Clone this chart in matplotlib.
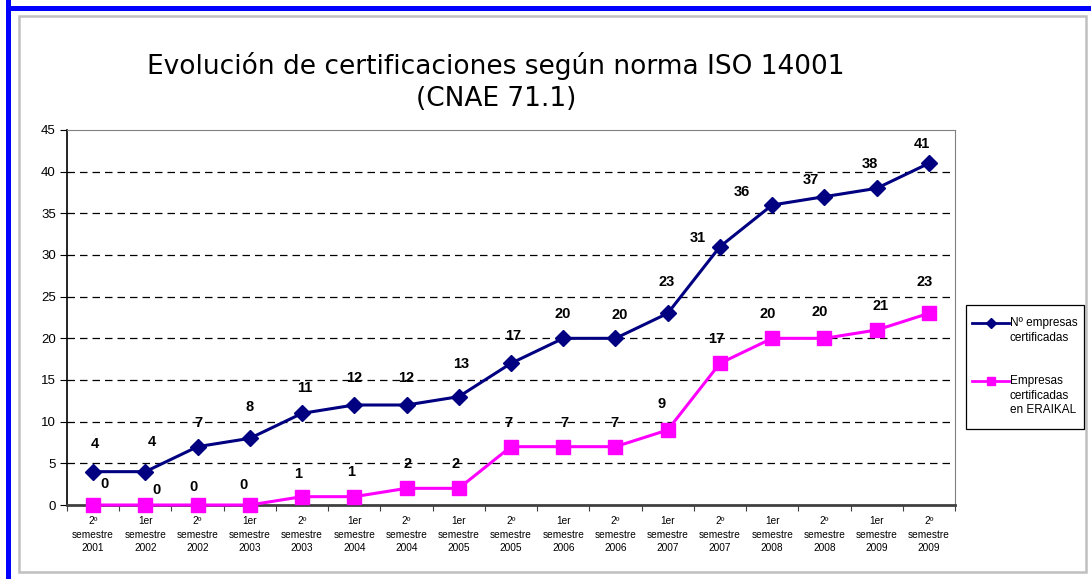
import matplotlib
matplotlib.use("Agg")
import matplotlib.pyplot as plt
from matplotlib.patches import Rectangle
from matplotlib.lines import Line2D

categories = [
    "2º\nsemestre\n2001", "1er\nsemestre\n2002", "2º\nsemestre\n2002", "1er\nsemestre\n2003",
    "2º\nsemestre\n2003", "1er\nsemestre\n2004", "2º\nsemestre\n2004", "1er\nsemestre\n2005",
    "2º\nsemestre\n2005", "1er\nsemestre\n2006", "2º\nsemestre\n2006", "1er\nsemestre\n2007",
    "2º\nsemestre\n2007", "1er\nsemestre\n2008", "2º\nsemestre\n2008", "1er\nsemestre\n2009",
    "2º\nsemestre\n2009",
]
empresas_certificadas = [4, 4, 7, 8, 11, 12, 12, 13, 17, 20, 20, 23, 31, 36, 37, 38, 41]
empresas_eraikal = [0, 0, 0, 0, 1, 1, 2, 2, 7, 7, 7, 9, 17, 20, 20, 21, 23]
series_names = ["Nº empresas\ncertificadas", "Empresas\ncertificadas\nen ERAIKAL"]
title = "Evolución de certificaciones según norma ISO 14001\n(CNAE 71.1)"
yticks = [0, 5, 10, 15, 20, 25, 30, 35, 40, 45]

# label offsets in pixels (placement style only)
blue_off = [(2, 28), (7, 30), (1, 24), (0, 31), (3, 25), (0, 27), (0, 27), (2, 33), (2, 27),
            (-1, 24), (4, 23), (-1, 31), (-22, 9), (-30, 13), (-14, 17), (-7, 24), (-7, 19)]
pink_off = [(11, 21), (11, 15), (-4, 18), (-6, 20), (-4, 23), (-3, 25), (1, 24), (-3, 24), (-3, 24),
            (1, 24), (-1, 24), (-6, 26), (-4, 24), (-4, 24), (-5, 26), (4, 24), (-4, 31)]

W, H = 1091, 579
fig = plt.figure(figsize=(W / 100, H / 100), dpi=100)
fig.patch.set_facecolor("white")

def fx(px):
    return px / W

def fy(py):
    return 1 - py / H

# outer frames
fig.add_artist(Rectangle((fx(6), fy(579)), fx(5), 1, color="#0000ff", lw=0, transform=fig.transFigure))
fig.add_artist(Rectangle((fx(6), fy(11)), 1, 5 / H, color="#0000ff", lw=0, transform=fig.transFigure))
fig.add_artist(Rectangle((fx(19), fy(572)), fx(1086 - 19), (572 - 16) / H, fill=False,
                         ec="#c0c0c0", lw=1.8, transform=fig.transFigure))

left, right, top, bottom = 67, 955, 130, 505
ax = fig.add_axes([fx(left), fy(bottom), fx(right - left), (bottom - top) / H])
n = len(categories)
x = list(range(n))
ax.set_xlim(-0.5, n - 0.5)
ax.set_ylim(0, 45)
ax.set_yticks(yticks)
ax.set_yticklabels([str(v) for v in yticks], fontsize=9.5, family="Liberation Sans")
ax.set_xticks([i - 0.5 for i in range(n + 1)], minor=False)
ax.set_xticklabels([])
ax.set_xticks(x, minor=True)
ax.set_xticklabels(categories, minor=True, fontsize=7.3, family="Liberation Sans", linespacing=1.45)
ax.tick_params(axis="x", which="minor", length=0, pad=8)
ax.tick_params(axis="x", which="major", length=4, color="#404040", direction="out")
ax.tick_params(axis="y", length=5, direction="out", pad=3)
for v in yticks[1:-1]:
    ax.axhline(v, color="black", lw=0.9, ls=(0, (6, 4)), zorder=1)
ax.spines["left"].set_color("black")
ax.spines["left"].set_linewidth(1.2)
ax.spines["bottom"].set_color("#404040")
ax.spines["bottom"].set_linewidth(2)
ax.spines["top"].set_color("#808080")
ax.spines["right"].set_color("#808080")

ax.plot(x, empresas_eraikal, color="#ff00ff", lw=2.2, marker="s", ms=9.5, zorder=3, clip_on=False)
ax.plot(x, empresas_certificadas, color="#000080", lw=2.2, marker="D", ms=8, zorder=4, clip_on=False)

for i in x:
    ax.annotate(str(empresas_certificadas[i]), (i, empresas_certificadas[i]), xytext=blue_off[i],
                textcoords="offset pixels", ha="center", va="center", fontsize=10.5, fontweight="bold",
                family="Liberation Sans")
    ax.annotate(str(empresas_eraikal[i]), (i, empresas_eraikal[i]), xytext=pink_off[i],
                textcoords="offset pixels", ha="center", va="center", fontsize=10.5, fontweight="bold",
                family="Liberation Sans")

fig.text(fx(496), fy(82), title, ha="center", va="center", fontsize=19, family="DejaVu Sans",
         linespacing=1.3)

# legend
fig.add_artist(Rectangle((fx(966), fy(429)), fx(1084 - 966), (429 - 305) / H, fill=False,
                         ec="black", lw=0.9, transform=fig.transFigure))
fig.add_artist(Line2D([fx(972), fx(1009)], [fy(323), fy(323)], color="#000080", lw=2,
                      marker=None, transform=fig.transFigure))
fig.add_artist(Line2D([fx(991)], [fy(323)], color="#000080", marker="D", ms=5, lw=0,
                      transform=fig.transFigure))
fig.add_artist(Line2D([fx(972), fx(1009)], [fy(381), fy(381)], color="#ff00ff", lw=2,
                      transform=fig.transFigure))
fig.add_artist(Line2D([fx(991)], [fy(381)], color="#ff00ff", marker="s", ms=6, lw=0,
                      transform=fig.transFigure))
fig.text(fx(1010), fy(317), series_names[0], ha="left", va="top", fontsize=8.5,
         family="Liberation Sans", linespacing=1.3)
fig.text(fx(1010), fy(375), series_names[1], ha="left", va="top", fontsize=8.5,
         family="Liberation Sans", linespacing=1.3)

fig.savefig("out.png", dpi=100)
